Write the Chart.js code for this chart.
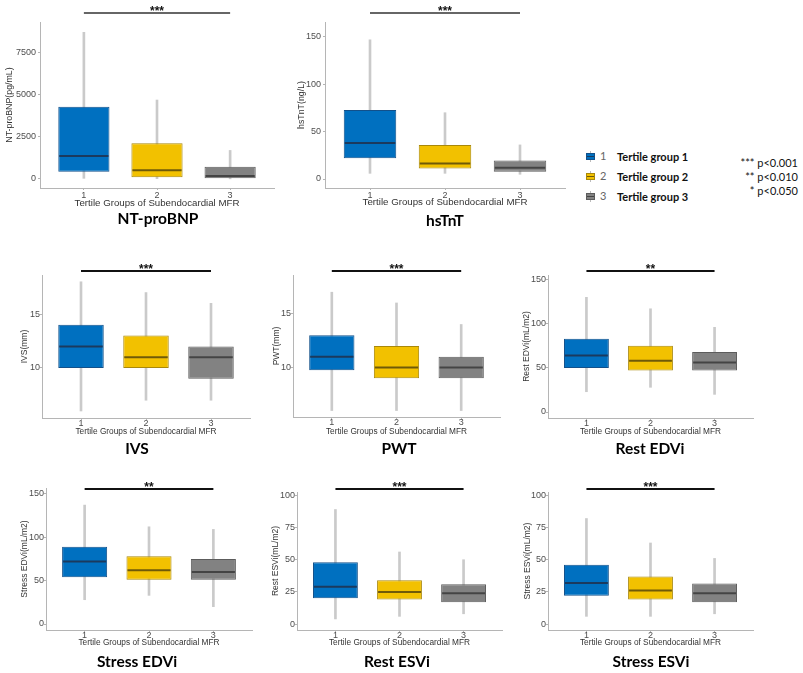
<!DOCTYPE html>
<html>
<head>
<meta charset="utf-8">
<script src="https://cdn.jsdelivr.net/npm/chart.js@4.4.0/dist/chart.umd.min.js"></script>
<style>
  body { margin: 0; width: 803px; height: 673px; background: #fff; position: relative; overflow: hidden; }
  canvas { position: absolute; }
  .leg { position: absolute; font-family: Lato, "Liberation Sans", sans-serif; color: #111; white-space: pre; }
  .ico { position: absolute; width: 7px; height: 5px; border: 1px solid; }
  .ico i { position: absolute; left: 0; right: 0; top: 2px; height: 1px; }
  .wh { position: absolute; width: 1px; height: 11px; background: #bbb; }
</style>
</head>
<body>
<script>
const groups = [1, 2, 3];
const xTitle = 'Tertile Groups of Subendocardial MFR';

// per tertile: [lower whisker, Q1, median, Q3, upper whisker]
const ntProBNP = [[40, 435, 1370, 4300, 8730], [20, 100, 520, 2125, 4700], [10, 40, 180, 730, 1700]];
const hsTnT = [[6, 22, 38, 73, 147], [6, 11, 16.5, 36, 70], [5, 7.7, 12, 19.5, 36]];
const ivs = [[6, 10, 12, 14, 18], [7, 10, 11, 13, 17], [7, 9, 11, 12, 16]];
const pwt = [[6, 9.75, 11, 13, 17], [6, 9, 10, 12, 16], [6, 9, 10, 11, 14]];
const restEDVi = [[23, 50, 64, 83, 130], [28, 47, 58, 75, 117], [20, 47, 56, 68, 96]];
const stressEDVi = [[28, 54, 72, 89, 137], [33, 51, 62, 78, 112], [20, 51, 60, 75, 109]];
const restESVi = [[4, 20, 29, 48, 89], [6, 19, 25, 34, 56], [8, 17, 24, 31, 50]];
const stressESVi = [[6, 22, 32, 46, 82], [6, 19, 26, 37, 63], [8, 17, 24, 31.5, 51]];

const ntProBNPTicks = [0, 2500, 5000, 7500];
const hsTnTTicks = [0, 50, 100, 150];
const mmTicks = [10, 15];
const edvTicks = [0, 50, 100, 150];
const esvTicks = [0, 25, 50, 75, 100];

const legendLabels = ['Tertile group 1', 'Tertile group 2', 'Tertile group 3'];
const pLabels = ['*** p<0.001', '** p<0.010', '* p<0.050'];

const fillColors = ['#0070c0', '#f2c100', '#828282'];
const edgeColors = ['#12508a', '#a9880a', '#5c5c5c'];
const medianColors = ['#1b3a5e', '#6f5a08', '#444444'];
const whiskerColor = '#cacaca';
const axisColor = '#b5b5b5';

const row1 = { tick: 9, xt: 9.7, yt: 8.8, tt: 15.5, tickPadX: 0, tickPadY: 2, sigColor: '#666' };
const row2 = { tick: 9, xt: 8.3, yt: 8.5, tt: 15.5, tickPadX: -2, tickPadY: 0, sigColor: '#111' };

const panels = [
  { title: 'NT-proBNP', yTitle: 'NT-proBNP(pg/mL)', stats: ntProBNP, ticks: ntProBNPTicks, sig: '***', min: -536, max: 9345,
    canvas: [0, 0, 290, 234], plot: [40, 22, 274, 188], titleX: 158, titleY: 219, yTitleX: 10, xTitleY: 203, sigY: 13, f: row1 },
  { title: 'hsTnT', yTitle: 'hsTnT(ng/L)', stats: hsTnT, ticks: hsTnTTicks, sig: '***', min: -9.5, max: 165.8,
    canvas: [290, 0, 290, 234], plot: [325, 22, 565, 188], titleX: 445, titleY: 221, yTitleX: 302, xTitleY: 202, sigY: 13, f: row1 },
  { title: 'IVS', yTitle: 'IVS(mm)', stats: ivs, ticks: mmTicks, sig: '***', min: 5.35, max: 18.63,
    canvas: [0, 236, 266, 226], plot: [42, 275, 250, 418], titleX: 137, titleY: 449, yTitleX: 25, xTitleY: 432, sigY: 271, f: row2 },
  { title: 'PWT', yTitle: 'PWT(mm)', stats: pwt, ticks: mmTicks, sig: '***', min: 5.4, max: 18.6,
    canvas: [266, 236, 249, 226], plot: [293, 275, 500, 417], titleX: 399, titleY: 449, yTitleX: 277, xTitleY: 432, sigY: 271, f: row2 },
  { title: 'Rest EDVi', yTitle: 'Rest EDVi(mL/m2)', stats: restEDVi, ticks: edvTicks, sig: '**', min: -6.8, max: 155.3,
    canvas: [515, 236, 270, 226], plot: [548, 275, 753, 418], titleX: 650, titleY: 449, yTitleX: 527, xTitleY: 432, sigY: 271, f: row2 },
  { title: 'Stress EDVi', yTitle: 'Stress EDVi(mL/m2)', stats: stressEDVi, ticks: edvTicks, sig: '**', min: -6.9, max: 156.7,
    canvas: [0, 462, 266, 211], plot: [46, 488, 252, 630], titleX: 137, titleY: 662, yTitleX: 25, xTitleY: 643, sigY: 489, f: row2 },
  { title: 'Rest ESVi', yTitle: 'Rest ESVi(mL/m2)', stats: restESVi, ticks: esvTicks, sig: '***', min: -4.6, max: 102.6,
    canvas: [266, 462, 249, 211], plot: [297, 492, 502, 630], titleX: 397, titleY: 662, yTitleX: 276, xTitleY: 643, sigY: 489, f: row2 },
  { title: 'Stress ESVi', yTitle: 'Stress ESVi(mL/m2)', stats: stressESVi, ticks: esvTicks, sig: '***', min: -4.6, max: 102.6,
    canvas: [515, 462, 270, 211], plot: [548, 492, 753, 630], titleX: 651, titleY: 662, yTitleX: 528, xTitleY: 643, sigY: 489, f: row2 }
];

// medians, significance bar with stars, and the panel caption
const boxExtras = {
  id: 'boxExtras',
  afterDatasetsDraw(chart, args, o) {
    const ctx = chart.ctx, x = chart.scales.x, y = chart.scales.y;
    ctx.save();
    chart.getDatasetMeta(1).data.forEach((bar, i) => {
      const yy = y.getPixelForValue(o.stats[i][2]);
      ctx.strokeStyle = medianColors[i];
      ctx.lineWidth = 2;
      ctx.beginPath();
      ctx.moveTo(bar.x - bar.width / 2 + 1, yy);
      ctx.lineTo(bar.x + bar.width / 2 - 1, yy);
      ctx.stroke();
    });
    const x1 = x.getPixelForValue(groups[0]), x3 = x.getPixelForValue(groups[2]);
    ctx.strokeStyle = o.sigColor;
    ctx.lineWidth = 2;
    ctx.beginPath();
    ctx.moveTo(x1, o.sigY);
    ctx.lineTo(x3, o.sigY);
    ctx.stroke();
    ctx.fillStyle = '#111';
    ctx.font = 'bold 12px "Liberation Sans", Arial';
    ctx.textAlign = 'center';
    ctx.textBaseline = 'alphabetic';
    ctx.fillText(o.sig, (x1 + x3) / 2, o.sigY + 2);

    ctx.fillStyle = '#000';
    ctx.font = 'bold ' + o.titleSize + 'px Lato, "Liberation Sans"';
    ctx.textBaseline = 'middle';
    ctx.fillText(o.title, o.titleX, o.titleY);
    ctx.restore();
  }
};

panels.forEach(p => {
  const [cx, cy, cw, ch] = p.canvas;
  const [pl, pt, pr, pb] = p.plot;
  const f = p.f;
  const cv = document.createElement('canvas');
  cv.width = cw; cv.height = ch;
  cv.style.left = cx + 'px'; cv.style.top = cy + 'px';
  cv.style.width = cw + 'px'; cv.style.height = ch + 'px';
  document.body.appendChild(cv);

  const xtLH = f.xt * 1.2, ytLH = f.yt * 1.2;
  const xAxisBottom = p.xTitleY + xtLH / 2 + 1;

  new Chart(cv, {
    type: 'bar',
    data: {
      datasets: [
        {
          data: groups.map((g, i) => ({ x: g, y: [p.stats[i][0], p.stats[i][4]] })),
          backgroundColor: whiskerColor, barThickness: 2, grouped: false, order: 2
        },
        {
          data: groups.map((g, i) => ({ x: g, y: [p.stats[i][1], p.stats[i][3]] })),
          backgroundColor: fillColors, borderColor: edgeColors, borderWidth: 1, borderSkipped: false,
          categoryPercentage: 1, barPercentage: 0.7, grouped: false, order: 1
        }
      ]
    },
    options: {
      responsive: false,
      animation: false,
      events: [],
      layout: { padding: { left: 0, top: pt - cy, right: cx + cw - pr, bottom: cy + ch - xAxisBottom } },
      plugins: {
        legend: { display: false },
        tooltip: { enabled: false },
        boxExtras: {
          stats: p.stats, sig: p.sig, sigY: p.sigY - cy, sigColor: f.sigColor,
          title: p.title, titleX: p.titleX - cx, titleY: p.titleY - cy, titleSize: f.tt
        }
      },
      scales: {
        x: {
          type: 'linear', min: 0.4, max: 3.6, offset: false,
          afterBuildTicks: s => { s.ticks = groups.map(v => ({ value: v })); },
          afterFit: s => { s.height = xAxisBottom - pb; },
          grid: { drawOnChartArea: false, drawTicks: true, tickLength: 2, color: axisColor, offset: false },
          border: { display: true, color: axisColor, width: 1 },
          ticks: { color: '#4d4d4d', padding: f.tickPadX, font: { family: 'Liberation Sans', size: f.tick }, callback: v => String(v) },
          title: {
            display: true, text: xTitle, color: '#333',
            font: { family: 'Liberation Sans', size: f.xt },
            padding: { top: 0, bottom: 1 }
          }
        },
        y: {
          min: p.min, max: p.max,
          afterBuildTicks: s => { s.ticks = p.ticks.map(v => ({ value: v })); },
          afterFit: s => { s.width = pl - cx; },
          grid: { drawOnChartArea: false, drawTicks: true, tickLength: 2, color: axisColor },
          border: { display: true, color: axisColor, width: 1 },
          ticks: { color: '#4d4d4d', padding: f.tickPadY, font: { family: 'Liberation Sans', size: f.tick }, callback: v => String(v) },
          title: {
            display: true, text: p.yTitle, color: '#333',
            font: { family: 'Liberation Sans', size: f.yt },
            padding: { top: Math.max(0, p.yTitleX - cx - ytLH / 2), bottom: 0 }
          }
        }
      }
    },
    plugins: [boxExtras]
  });
});

// legend and p-value key
const legRowY = [156, 176, 196];
const pRowY = [163, 177, 191];
legendLabels.forEach((lab, i) => {
  const wh = document.createElement('div');
  wh.className = 'wh';
  wh.style.left = '590px'; wh.style.top = (legRowY[i] - 5) + 'px';
  document.body.appendChild(wh);
  const ico = document.createElement('div');
  ico.className = 'ico';
  ico.style.left = '586px'; ico.style.top = (legRowY[i] - 3) + 'px';
  ico.style.background = fillColors[i]; ico.style.borderColor = edgeColors[i];
  const med = document.createElement('i');
  med.style.background = medianColors[i];
  ico.appendChild(med);
  document.body.appendChild(ico);

  const num = document.createElement('div');
  num.className = 'leg';
  num.textContent = String(groups[i]);
  num.style.cssText += 'left:600px;font-size:11px;color:#666;line-height:14px;top:' + (legRowY[i] - 7) + 'px';
  document.body.appendChild(num);

  const t = document.createElement('div');
  t.className = 'leg';
  t.textContent = lab;
  t.style.cssText += 'left:617px;font-size:11px;font-weight:bold;line-height:14px;top:' + (legRowY[i] - 6) + 'px';
  document.body.appendChild(t);
});
pLabels.forEach((lab, i) => {
  const t = document.createElement('div');
  t.className = 'leg';
  t.textContent = lab;
  t.style.cssText += 'right:5px;text-align:right;font-size:11px;line-height:14px;top:' + (pRowY[i] - 7) + 'px';
  document.body.appendChild(t);
});
</script>
</body>
</html>
